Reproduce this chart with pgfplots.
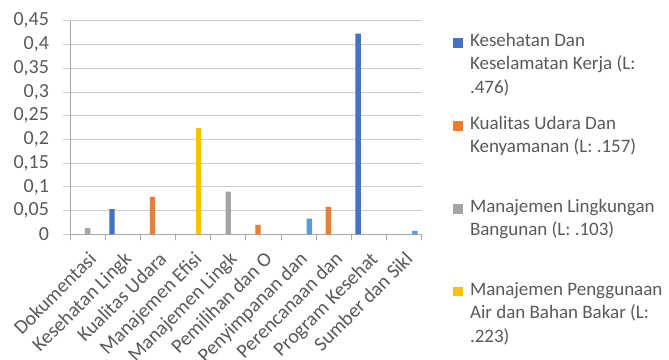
\documentclass[border=0pt]{standalone}
\usepackage{pgfplots}
\pgfplotsset{compat=1.18}
\usepackage{fontspec}
\setmainfont{Carlito}
\definecolor{s1}{HTML}{4472C4}
\definecolor{s2}{HTML}{ED7D31}
\definecolor{s3}{HTML}{A5A5A5}
\definecolor{s4}{HTML}{FFC000}
\definecolor{s5}{HTML}{5B9BD5}
\definecolor{txt}{HTML}{595959}
\definecolor{gridc}{HTML}{CCCCCC}
\definecolor{axc}{HTML}{A6A6A6}
\begin{document}%
\fontsize{19}{23.3}\selectfont%
\begin{tikzpicture}
\begin{axis}[
  at={(70pt,124.7pt)}, anchor=south west,
  scale only axis, width=351.7pt, height=213.6pt,
  ybar=0pt, bar width=5.4pt,
  every axis plot post/.append style={legend image code/.code={\fill[##1] (0pt,-1pt) rectangle (9.5pt,8.5pt);}},
  xmin=-0.5, xmax=9.5, ymin=0, ymax=0.45,
  xtick={0,1,2,3,4,5,6,7,8,9},
  xticklabels={Dokumentasi, Kesehatan Lingk, Kualitas Udara, Manajemen Efisi, Manajemen Lingk, Pemilihan dan O, Penyimpanan dan, Perencanaan dan, Program Kesehat, Sumber dan Sikl},
  minor xtick={-0.5,0.5,1.5,2.5,3.5,4.5,5.5,6.5,7.5,8.5,9.5},
  ytick={0,0.05,0.1,0.15,0.2,0.25,0.3,0.35,0.4,0.45},
  ymajorgrids, major grid style={gridc, line width=0.8pt},
  axis x line*=bottom, axis y line*=left,
  axis line style={axc, line width=0.8pt},
  tick align=outside,
  major tick length=7pt, minor tick length=6pt,
  major x tick style={draw=none},
  minor x tick style={axc, line width=0.8pt},
  ytick style={gridc, line width=0.8pt},
  /pgf/number format/assume math mode=true,
  yticklabel style={/pgf/number format/fixed, /pgf/number format/precision=2, /pgf/number format/use comma, text=txt, font=\fontsize{20}{24}\selectfont, xshift=-7.5pt},
  xticklabel style={rotate=45, anchor=north east, text=txt, font=\fontsize{20}{24}\selectfont},
  legend style={at={(axis description cs:1.089,0.9405)}, anchor=north west, draw=none, fill=none, inner sep=0pt, outer sep=0pt, row sep=0pt, column sep=7.5pt, font=\fontsize{19}{23.3}\selectfont, text=txt, nodes={text depth=, inner sep=0pt}, cells={anchor=base west, inner sep=0pt}},
]
\addplot[fill=s1, draw=none] coordinates {(1,0.053) (8,0.423)};
\addlegendentry{\parbox[t][83pt][t]{200pt}{Kesehatan Dan\\Keselamatan Kerja (L:\\.476)}}
\addplot[fill=s2, draw=none] coordinates {(2,0.079) (5,0.020) (7,0.058)};
\addlegendentry{\parbox[t][83pt][t]{200pt}{Kualitas Udara Dan\\Kenyamanan (L: .157)}}
\addplot[fill=s3, draw=none] coordinates {(0,0.013) (4,0.090)};
\addlegendentry{\parbox[t][83pt][t]{200pt}{Manajemen Lingkungan\\Bangunan (L: .103)}}
\addplot[fill=s4, draw=none] coordinates {(3,0.223)};
\addlegendentry{\parbox[t][83pt][t]{200pt}{Manajemen Penggunaan\\Air dan Bahan Bakar (L:\\.223)}}
\addplot[fill=s5, draw=none] coordinates {(6,0.033) (9,0.007)};
\end{axis}
\pgfresetboundingbox
\useasboundingbox (0,0) rectangle (669pt,359pt);
\end{tikzpicture}%
\end{document}
